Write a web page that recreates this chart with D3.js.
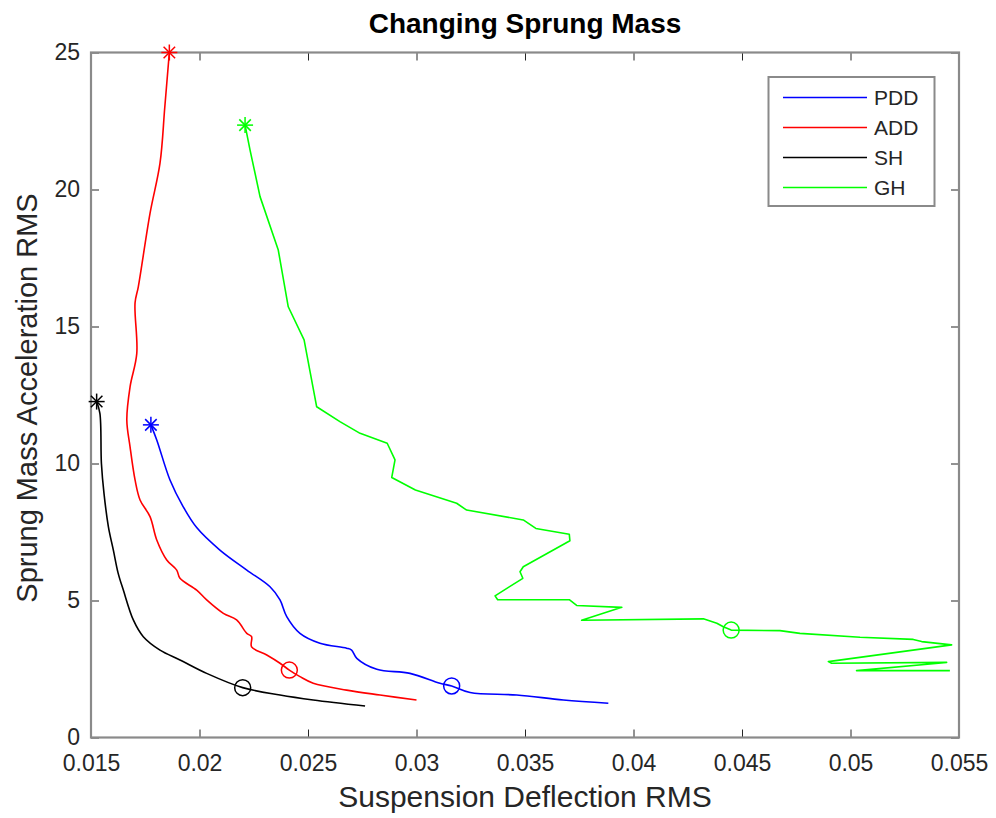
<!DOCTYPE html>
<html>
<head>
<meta charset="utf-8">
<script src="https://cdn.jsdelivr.net/npm/d3@7"></script>
<style>
  html, body { margin: 0; padding: 0; background: #fff; }
  svg { display: block; }
  text { font-family: "Liberation Sans", Arial, Helvetica, sans-serif; }
</style>
</head>
<body>
<svg id="chart" width="996" height="818"></svg>
<script>
// ---------- data ----------
const title = "Changing Sprung Mass";
const xLabel = "Suspension Deflection RMS";
const yLabel = "Sprung Mass Acceleration RMS";
const seriesNames = ["PDD", "ADD", "SH", "GH"];
const seriesColors = ["#0000ff", "#ff0000", "#000000", "#00ff00"];

const xTicks = [0.015, 0.02, 0.025, 0.03, 0.035, 0.04, 0.045, 0.05, 0.055];
const xTickLabels = ["0.015", "0.02", "0.025", "0.03", "0.035", "0.04", "0.045", "0.05", "0.055"];
const yTicks = [0, 5, 10, 15, 20, 25];
const yTickLabels = ["0", "5", "10", "15", "20", "25"];

const pddX = [0.01776, 0.01803, 0.01864, 0.01925, 0.01987, 0.02094, 0.02218, 0.02325, 0.02371, 0.02402, 0.02463, 0.02555, 0.02678, 0.02701, 0.02725, 0.02817, 0.0297, 0.03108, 0.03162, 0.03247, 0.03462, 0.03677, 0.03884];
const pddY = [11.41, 10.86, 9.4, 8.42, 7.66, 6.84, 6.11, 5.50, 5.02, 4.41, 3.80, 3.44, 3.26, 3.19, 2.89, 2.49, 2.34, 1.98, 1.88, 1.64, 1.55, 1.37, 1.25];

const addX = [0.01861, 0.01840, 0.01818, 0.01772, 0.01718, 0.01703, 0.01711, 0.01680, 0.01665, 0.01680, 0.01703, 0.01726, 0.01772, 0.01803, 0.01849, 0.01895, 0.01910, 0.01987, 0.02033, 0.02110, 0.02171, 0.02218, 0.02240, 0.02240, 0.02310, 0.02371, 0.02414, 0.02463, 0.02524, 0.02678, 0.02832, 0.03000];
const addY = [25.0, 23.0, 20.96, 19.13, 16.45, 15.86, 14.02, 12.8, 11.59, 10.61, 9.4, 8.67, 8.06, 7.21, 6.48, 6.11, 5.81, 5.38, 5.02, 4.53, 4.29, 3.80, 3.68, 3.31, 3.01, 2.71, 2.46, 2.22, 1.98, 1.73, 1.55, 1.37];

const shX = [0.01526, 0.01541, 0.01548, 0.01560, 0.01580, 0.01603, 0.01625, 0.01649, 0.01695, 0.01741, 0.01818, 0.01910, 0.02033, 0.02199, 0.02371, 0.02524, 0.02763];
const shY = [12.26, 11.83, 10.0, 8.9, 7.7, 6.84, 6.0, 5.38, 4.29, 3.68, 3.19, 2.83, 2.34, 1.82, 1.55, 1.37, 1.15];

const ghX = [0.0221, 0.02233, 0.02279, 0.02363, 0.02409, 0.02482, 0.0254, 0.02647, 0.0274, 0.02865, 0.02901, 0.02886, 0.02995, 0.03185, 0.03231, 0.03492, 0.0355, 0.03704, 0.03707, 0.03492, 0.03477, 0.0349, 0.03362, 0.03374, 0.03704, 0.03738, 0.03946, 0.03761, 0.04322, 0.04384, 0.04414, 0.0445, 0.04675, 0.04767, 0.05044, 0.05289, 0.05328, 0.05466, 0.04898, 0.04913, 0.05443, 0.05028, 0.05458];
const ghY = [22.35, 21.44, 19.74, 17.79, 15.72, 14.51, 12.07, 11.53, 11.1, 10.74, 10.13, 9.49, 9.03, 8.55, 8.30, 7.94, 7.63, 7.42, 7.18, 6.23, 6.05, 5.81, 5.17, 5.03, 5.03, 4.82, 4.75, 4.28, 4.33, 4.17, 4.04, 3.92, 3.90, 3.80, 3.66, 3.58, 3.50, 3.38, 2.77, 2.71, 2.74, 2.44, 2.44];

// circle marker positions (index into each series)
const circleIndex = [18, 26, 13, 31];
const smoothSeries = [true, true, true, false];

// ---------- layout ----------
const W = 996, H = 818;
const mLeft = 91, mRight = 959, mTop = 52.5, mBottom = 737.5;

const svg = d3.select("#chart");
const x = d3.scaleLinear().domain([0.015, 0.055]).range([mLeft, mRight]);
const y = d3.scaleLinear().domain([0, 25]).range([mBottom, mTop]);

const series = [
  {name: seriesNames[0], color: seriesColors[0], xs: pddX, ys: pddY, ci: circleIndex[0], smooth: smoothSeries[0]},
  {name: seriesNames[1], color: seriesColors[1], xs: addX, ys: addY, ci: circleIndex[1], smooth: smoothSeries[1]},
  {name: seriesNames[2], color: seriesColors[2], xs: shX, ys: shY, ci: circleIndex[2], smooth: smoothSeries[2]},
  {name: seriesNames[3], color: seriesColors[3], xs: ghX, ys: ghY, ci: circleIndex[3], smooth: smoothSeries[3]}
];

svg.append("rect").attr("x", 0).attr("y", 0).attr("width", W).attr("height", H).attr("fill", "#fff");

// axes
const tickColor = "#262626";
const axisColor = "#8a8a8a";
function styleAxis(g) {
  g.select(".domain").remove();
  g.selectAll(".tick line").attr("stroke", tickColor).attr("stroke-width", 1);
  g.selectAll(".tick text").attr("fill", tickColor).style("font-size", "23px");
}
const fmtX = (d) => xTickLabels[xTicks.indexOf(d)];
const fmtY = (d) => yTickLabels[yTicks.indexOf(d)];

svg.append("g").attr("transform", `translate(0,${mBottom})`)
  .call(d3.axisBottom(x).tickValues(xTicks).tickFormat(fmtX).tickSize(-8).tickPadding(17))
  .call(styleAxis);
svg.append("g").attr("transform", `translate(0,${mTop})`)
  .call(d3.axisTop(x).tickValues(xTicks).tickFormat("").tickSize(-8))
  .call(styleAxis);
svg.append("g").attr("transform", `translate(${mLeft},0)`)
  .call(d3.axisLeft(y).tickValues(yTicks).tickFormat(fmtY).tickSize(-8).tickPadding(11))
  .call(styleAxis);
svg.append("g").attr("transform", `translate(${mRight},0)`)
  .call(d3.axisRight(y).tickValues(yTicks).tickFormat("").tickSize(-8))
  .call(styleAxis);

svg.append("rect").attr("x", mLeft).attr("y", mTop).attr("width", mRight - mLeft).attr("height", mBottom - mTop)
  .attr("fill", "none").attr("stroke", axisColor).attr("stroke-width", 2.2);

// lines
const lineLin = d3.line().x(d => x(d[0])).y(d => y(d[1]));
const lineSmooth = d3.line().x(d => x(d[0])).y(d => y(d[1])).curve(d3.curveCatmullRom.alpha(0.5));
const plot = svg.append("g");
series.forEach(s => {
  const pts = s.xs.map((v, i) => [v, s.ys[i]]);
  plot.append("path").datum(pts).attr("d", s.smooth ? lineSmooth : lineLin)
    .attr("fill", "none").attr("stroke", s.color).attr("stroke-width", 1.6).attr("stroke-linejoin", "round");
  const sx = x(pts[0][0]), sy = y(pts[0][1]);
  const r = 8, rd = r * 0.72;
  const star = plot.append("g").attr("stroke", s.color).attr("stroke-width", 1.5);
  star.append("line").attr("x1", sx - r).attr("x2", sx + r).attr("y1", sy).attr("y2", sy);
  star.append("line").attr("x1", sx).attr("x2", sx).attr("y1", sy - r).attr("y2", sy + r);
  star.append("line").attr("x1", sx - rd).attr("x2", sx + rd).attr("y1", sy - rd).attr("y2", sy + rd);
  star.append("line").attr("x1", sx - rd).attr("x2", sx + rd).attr("y1", sy + rd).attr("y2", sy - rd);
  const c = pts[s.ci];
  plot.append("circle").attr("cx", x(c[0])).attr("cy", y(c[1])).attr("r", 8)
    .attr("fill", "none").attr("stroke", s.color).attr("stroke-width", 1.5);
});

// title and labels
svg.append("text").attr("x", (mLeft + mRight) / 2).attr("y", 33).attr("text-anchor", "middle")
  .attr("fill", "#000").style("font-size", "28px").style("font-weight", "bold").text(title);
svg.append("text").attr("x", (mLeft + mRight) / 2).attr("y", 807).attr("text-anchor", "middle")
  .attr("fill", tickColor).style("font-size", "30px").text(xLabel);
svg.append("text").attr("transform", `translate(37,${(mTop + mBottom) / 2 + 3}) rotate(-90)`).attr("text-anchor", "middle")
  .attr("fill", tickColor).style("font-size", "29px").text(yLabel);

// legend
const lg = svg.append("g");
lg.append("rect").attr("x", 768.5).attr("y", 77).attr("width", 166).attr("height", 129)
  .attr("fill", "#fff").attr("stroke", axisColor).attr("stroke-width", 2);
series.forEach((s, i) => {
  const ly = 97.5 + i * 30;
  lg.append("line").attr("x1", 783).attr("x2", 867).attr("y1", ly).attr("y2", ly)
    .attr("stroke", s.color).attr("stroke-width", 1.6);
  lg.append("text").attr("x", 874).attr("y", ly + 7.5).attr("fill", tickColor)
    .style("font-size", "21px").text(s.name);
});
</script>
</body>
</html>
